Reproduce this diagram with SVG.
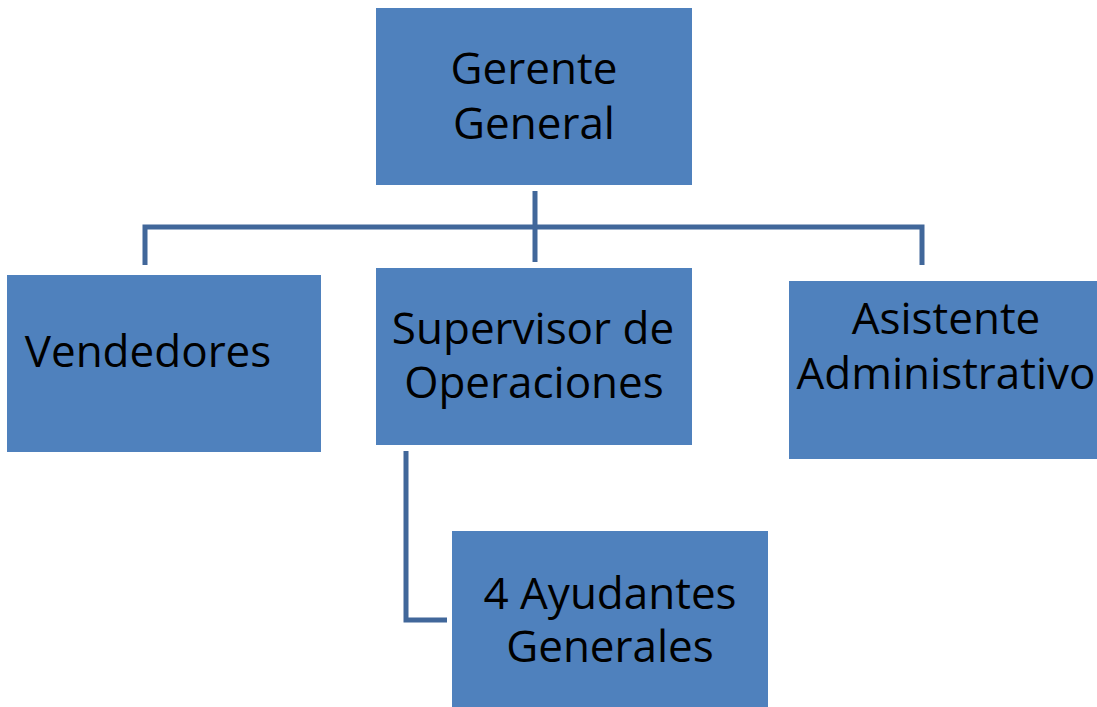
<svg xmlns="http://www.w3.org/2000/svg" width="1097" height="707" viewBox="0 0 1097 707">
<style>
.box{fill:#4F81BD;}
.t{font-family:"Open Sans","Noto Sans",sans-serif;font-size:44px;fill:#000;text-anchor:middle;}
.c{fill:none;stroke:#41679A;stroke-width:5;stroke-linejoin:miter;}
</style>
<rect width="1097" height="707" fill="#fff"/>
<g id="connectors">
<path class="c" d="M535,191 V262"/>
<path class="c" d="M145,265 V227 H922 V265"/>
<path class="c" d="M406,451 V620 H447"/>
</g>
<g id="gerente">
<rect class="box" x="376" y="8" width="316" height="177"/>
<text class="t" x="534" y="84">Gerente</text>
<text class="t" x="534" y="139">General</text>
</g>
<g id="vendedores">
<rect class="box" x="7" y="275" width="314" height="177"/>
<text class="t" x="148" y="367">Vendedores</text>
</g>
<g id="supervisor">
<rect class="box" x="376" y="268" width="316" height="177"/>
<text class="t" x="533" y="344">Supervisor de</text>
<text class="t" x="534" y="398">Operaciones</text>
</g>
<g id="asistente">
<rect class="box" x="789" y="281" width="310" height="178"/>
<text class="t" x="946" y="334">Asistente</text>
<text class="t" x="946" y="389">Administrativo</text>
</g>
<g id="ayudantes">
<rect class="box" x="452" y="531" width="316" height="178"/>
<text class="t" x="610" y="609">4 Ayudantes</text>
<text class="t" x="610" y="662">Generales</text>
</g>
</svg>
